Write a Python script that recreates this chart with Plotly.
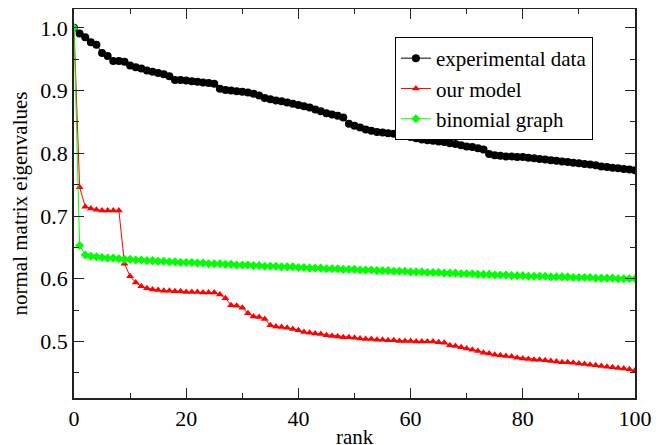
import plotly.graph_objects as go

rank = list(range(101))

experimental = [
    1.000, 0.991, 0.985, 0.977, 0.973, 0.960, 0.955, 0.947, 0.947, 0.946,
    0.940, 0.937, 0.935, 0.932, 0.930, 0.928, 0.926, 0.923, 0.917, 0.917,
    0.916, 0.915, 0.914, 0.913, 0.912, 0.911, 0.903, 0.901, 0.900, 0.899,
    0.898, 0.897, 0.895, 0.892, 0.888, 0.886, 0.884, 0.883, 0.881, 0.879,
    0.877, 0.875, 0.873, 0.870, 0.867, 0.864, 0.862, 0.860, 0.857, 0.847,
    0.844, 0.841, 0.838, 0.836, 0.834, 0.833, 0.832, 0.831, 0.830, 0.828,
    0.826, 0.824, 0.822, 0.821, 0.820, 0.819, 0.818, 0.816, 0.815, 0.813,
    0.811, 0.810, 0.808, 0.806, 0.799, 0.797, 0.796, 0.795, 0.795, 0.794,
    0.794, 0.793, 0.792, 0.791, 0.790, 0.789, 0.788, 0.787, 0.786, 0.785,
    0.784, 0.783, 0.782, 0.781, 0.779, 0.778, 0.777, 0.776, 0.775, 0.774,
    0.773,
]

our_model = [
    1.000, 0.746, 0.715, 0.712, 0.710, 0.709, 0.709, 0.709, 0.709, 0.624,
    0.604, 0.594, 0.588, 0.585, 0.583, 0.582, 0.581, 0.581, 0.580, 0.580,
    0.579, 0.579, 0.579, 0.578, 0.578, 0.578, 0.575, 0.569, 0.558, 0.557,
    0.554, 0.545, 0.540, 0.539, 0.536, 0.526, 0.524, 0.523, 0.522, 0.520,
    0.518, 0.515, 0.514, 0.513, 0.512, 0.510, 0.509, 0.508, 0.507, 0.507,
    0.506, 0.505, 0.504, 0.504, 0.503, 0.503, 0.502, 0.502, 0.501, 0.501,
    0.501, 0.500, 0.500, 0.500, 0.500, 0.499, 0.498, 0.494, 0.493, 0.491,
    0.489, 0.487, 0.485, 0.482, 0.481, 0.479, 0.478, 0.477, 0.476, 0.474,
    0.473, 0.472, 0.471, 0.471, 0.470, 0.469, 0.468, 0.467, 0.467, 0.466,
    0.465, 0.464, 0.463, 0.462, 0.461, 0.460, 0.459, 0.458, 0.457, 0.456,
    0.454,
]

binomial = [
    1.000, 0.653, 0.638, 0.636, 0.635, 0.634, 0.633, 0.633, 0.632, 0.631,
    0.631, 0.630, 0.630, 0.629, 0.629, 0.628, 0.628, 0.627, 0.627, 0.626,
    0.626, 0.626, 0.625, 0.625, 0.624, 0.624, 0.624, 0.623, 0.623, 0.622,
    0.622, 0.622, 0.621, 0.621, 0.620, 0.620, 0.620, 0.619, 0.619, 0.619,
    0.618, 0.618, 0.617, 0.617, 0.617, 0.616, 0.616, 0.616, 0.615, 0.615,
    0.615, 0.614, 0.614, 0.614, 0.613, 0.613, 0.613, 0.612, 0.612, 0.612,
    0.611, 0.611, 0.611, 0.610, 0.610, 0.610, 0.609, 0.609, 0.609, 0.608,
    0.608, 0.608, 0.607, 0.607, 0.607, 0.606, 0.606, 0.606, 0.605, 0.605,
    0.605, 0.604, 0.604, 0.604, 0.604, 0.603, 0.603, 0.603, 0.603, 0.602,
    0.602, 0.602, 0.602, 0.601, 0.601, 0.601, 0.601, 0.600, 0.600, 0.600,
    0.600,
]

x_ticks = [0, 20, 40, 60, 80, 100]
y_ticks = [0.5, 0.6, 0.7, 0.8, 0.9, 1.0]

FONT = "Liberation Serif, Times New Roman, Times, serif"

fig = go.Figure()
fig.add_trace(go.Scatter(
    x=rank, y=experimental, name="experimental data", mode="lines+markers",
    line=dict(color="#000000", width=1),
    marker=dict(symbol="circle", size=8, color="#000000"),
))
fig.add_trace(go.Scatter(
    x=rank, y=our_model, name="our model", mode="lines+markers",
    line=dict(color="#ff0000", width=1),
    marker=dict(symbol="triangle-up", size=7, color="#ff0000"),
))
fig.add_trace(go.Scatter(
    x=rank, y=binomial, name="binomial graph", mode="lines+markers",
    line=dict(color="#00ff00", width=1),
    marker=dict(symbol="diamond", size=7, color="#00ff00"),
))

axis_common = dict(
    showgrid=False, zeroline=False, showline=True, linecolor="#222222",
    linewidth=1.5, mirror="allticks", ticks="inside", ticklen=10,
    tickwidth=1.2, tickcolor="#222222", automargin=False,
    tickfont=dict(family=FONT, size=22, color="#000000"),
)

fig.update_xaxes(
    range=[0, 100], tickvals=x_ticks,
    minor=dict(dtick=10, ticklen=5, ticks="inside", tickcolor="#222222", tickwidth=1.2),
    **axis_common,
)
fig.update_yaxes(
    range=[0.41, 1.03], tickvals=y_ticks, tickformat=".1f",
    minor=dict(dtick=0.05, tick0=0.0, ticklen=5, ticks="inside", tickcolor="#222222", tickwidth=1.2),
    title=dict(text="normal matrix eigenvalues", font=dict(family=FONT, size=21, color="#000000"), standoff=18),
    **axis_common,
)

fig.add_annotation(
    text="rank", xref="paper", yref="paper", x=0.5, y=-0.065,
    xanchor="center", yanchor="top", showarrow=False,
    font=dict(family=FONT, size=21, color="#000000"),
)

fig.update_layout(
    template="none",
    width=665, height=445,
    margin=dict(l=66, r=38, t=1, b=55),
    paper_bgcolor="#ffffff", plot_bgcolor="#ffffff",
    font=dict(family=FONT, size=21, color="#000000"),
    showlegend=True,
    legend=dict(
        x=0.572, y=0.928, xanchor="left", yanchor="top",
        bgcolor="#ffffff", bordercolor="#000000", borderwidth=1,
        font=dict(family=FONT, size=21, color="#000000"),
        tracegroupgap=0, itemwidth=30,
    ),
)

fig.write_html("out.html")
